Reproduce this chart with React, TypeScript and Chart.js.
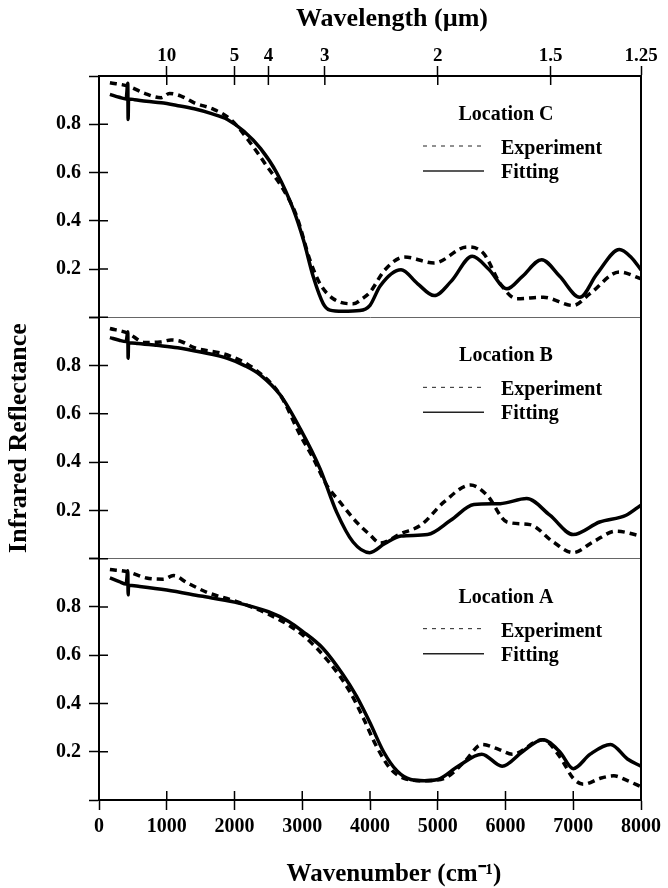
import React, { useEffect, useRef } from 'react';
import { Chart, registerables } from 'chart.js';

Chart.register(...registerables);

// ---------- axis / tick data ----------
const wavelengthValues = [10, 5, 4, 3, 2, 1.5, 1.25]; // µm
const wavelengthLabels = ['10', '5', '4', '3', '2', '1.5', '1.25'];
const panelLabels = ['Location C', 'Location B', 'Location A'];
const panelAxes = ['yC', 'yB', 'yA'];
const legendLabels = ['Experiment', 'Fitting'];
const topTitle = 'Wavelength (\u00B5m)';
const bottomTitle = 'Wavenumber (cm\u207B\u00B9)';
const leftTitle = 'Infrared Reflectance';

// ---------- Location C ----------
const cFitWn = [161, 300, 400, 425, 430, 436, 527, 700, 918, 1150, 1406, 1650, 1895, 2139, 2383, 2627, 2871, 3018, 3164, 3311, 3408, 3600, 3850, 4000, 4150, 4458, 4700, 4947, 5200, 5508, 5750, 6021, 6250, 6534, 6800, 7096, 7350, 7682, 7850, 8000];
const cFitR = [0.924, 0.912, 0.905, 0.97, 0.82, 0.905, 0.902, 0.895, 0.889, 0.878, 0.864, 0.845, 0.82, 0.771, 0.70, 0.597, 0.445, 0.32, 0.167, 0.056, 0.03, 0.025, 0.028, 0.05, 0.13, 0.197, 0.14, 0.09, 0.15, 0.253, 0.2, 0.118, 0.17, 0.239, 0.17, 0.083, 0.18, 0.281, 0.25, 0.197];
const cExpWn = [161, 430, 674, 918, 1040, 1211, 1406, 1700, 1944, 2237, 2481, 2725, 2920, 3115, 3262, 3457, 3750, 3900, 4000, 4215, 4508, 4947, 5435, 5679, 5923, 6167, 6559, 6998, 7242, 7682, 8000];
const cExpR = [0.972, 0.958, 0.928, 0.91, 0.928, 0.917, 0.889, 0.861, 0.82, 0.722, 0.625, 0.528, 0.417, 0.236, 0.139, 0.077, 0.056, 0.08, 0.104, 0.195, 0.25, 0.225, 0.292, 0.264, 0.139, 0.077, 0.083, 0.049, 0.097, 0.188, 0.16];

// ---------- Location B ----------
const bFitWn = [161, 300, 400, 425, 430, 436, 576, 850, 1162, 1500, 1895, 2150, 2383, 2676, 2969, 3262, 3506, 3750, 3995, 4215, 4458, 4850, 5191, 5533, 5923, 6313, 6655, 6998, 7389, 7780, 8000];
const bFitR = [0.916, 0.905, 0.90, 0.94, 0.83, 0.895, 0.892, 0.884, 0.874, 0.856, 0.83, 0.80, 0.761, 0.678, 0.539, 0.373, 0.194, 0.069, 0.025, 0.062, 0.094, 0.10, 0.159, 0.224, 0.228, 0.249, 0.18, 0.10, 0.152, 0.18, 0.222];
const bExpWn = [161, 430, 674, 900, 1064, 1211, 1406, 1895, 2285, 2676, 2969, 3164, 3360, 3555, 3799, 3995, 4150, 4458, 4751, 5093, 5484, 5728, 6021, 6362, 6705, 6998, 7291, 7633, 8000];
const bExpR = [0.954, 0.934, 0.896, 0.898, 0.906, 0.9, 0.874, 0.844, 0.788, 0.678, 0.512, 0.415, 0.305, 0.235, 0.152, 0.10, 0.065, 0.104, 0.139, 0.235, 0.305, 0.263, 0.152, 0.141, 0.069, 0.025, 0.069, 0.114, 0.094];

// ---------- Location A ----------
const aFitWn = [161, 300, 400, 425, 430, 436, 600, 1000, 1500, 2000, 2500, 2800, 3000, 3300, 3600, 3800, 4000, 4200, 4400, 4600, 4800, 5000, 5300, 5650, 5950, 6250, 6550, 6800, 7000, 7250, 7550, 7800, 8000];
const aFitR = [0.92, 0.905, 0.895, 0.95, 0.85, 0.89, 0.885, 0.87, 0.845, 0.82, 0.78, 0.74, 0.70, 0.63, 0.52, 0.43, 0.32, 0.20, 0.12, 0.085, 0.08, 0.085, 0.14, 0.19, 0.14, 0.2, 0.25, 0.2, 0.13, 0.19, 0.23, 0.17, 0.14];
const aExpWn = [161, 430, 700, 950, 1100, 1300, 1600, 2000, 2500, 3000, 3400, 3700, 3900, 4100, 4300, 4500, 4800, 5100, 5400, 5650, 5900, 6100, 6550, 6800, 7000, 7150, 7400, 7600, 7800, 8000];
const aExpR = [0.955, 0.945, 0.92, 0.915, 0.93, 0.9, 0.86, 0.825, 0.77, 0.685, 0.57, 0.45, 0.34, 0.22, 0.13, 0.09, 0.08, 0.09, 0.16, 0.23, 0.21, 0.19, 0.25, 0.18, 0.09, 0.065, 0.09, 0.10, 0.08, 0.055];

const FAMILY = '"Liberation Serif", "Times New Roman", serif';

const pts = (xs: number[], ys: number[]) => xs.map((x, i) => ({ x, y: ys[i] }));

const expStyle = {
  borderColor: '#000',
  borderWidth: 3.5,
  borderDash: [7, 5],
  pointRadius: 0,
  fill: false,
  cubicInterpolationMode: 'monotone' as const,
};
const fitStyle = {
  borderColor: '#000',
  borderWidth: 3.5,
  pointRadius: 0,
  fill: false,
  cubicInterpolationMode: 'monotone' as const,
};

const decorPlugin = {
  id: 'decor',
  afterDraw(chart: any) {
    const ctx = chart.ctx as CanvasRenderingContext2D;
    const a = chart.chartArea;
    ctx.save();
    ctx.strokeStyle = '#000';
    // right border
    ctx.lineWidth = 2;
    ctx.beginPath();
    ctx.moveTo(a.right, a.top - 1);
    ctx.lineTo(a.right, a.bottom + 1);
    ctx.stroke();
    // inward tick marks
    ctx.lineWidth = 1.5;
    ctx.beginPath();
    panelAxes.forEach((id) => {
      const s = chart.scales[id];
      s.ticks.forEach((t: any) => {
        const y = s.getPixelForValue(t.value);
        ctx.moveTo(a.left, y);
        ctx.lineTo(a.left + 9, y);
      });
    });
    const xb = chart.scales.x;
    xb.ticks.forEach((t: any) => {
      const x = xb.getPixelForValue(t.value);
      ctx.moveTo(x, a.bottom);
      ctx.lineTo(x, a.bottom - 9);
    });
    const xt = chart.scales.xTop;
    xt.ticks.forEach((t: any) => {
      const x = xt.getPixelForValue(t.value);
      ctx.moveTo(x, a.top);
      ctx.lineTo(x, a.top + 9);
    });
    ctx.stroke();

    ctx.fillStyle = '#000';
    // axis titles (x titles sit slightly right of plot centre, as in the original)
    ctx.font = `bold 26px ${FAMILY}`;
    ctx.textAlign = 'center';
    ctx.textBaseline = 'middle';
    ctx.fillText(topTitle, 392, 19);
    ctx.font = `bold 25px ${FAMILY}`;
    ctx.fillText(bottomTitle, 394, 875);

    // panel labels and legends
    ctx.font = `bold 20px ${FAMILY}`;
    ctx.textBaseline = 'alphabetic';
    panelAxes.forEach((id, i) => {
      const top = chart.scales[id].top;
      ctx.textAlign = 'center';
      ctx.fillText(panelLabels[i], a.right - 135, top + 44);
      ctx.textAlign = 'left';
      ctx.fillText(legendLabels[0], a.right - 140, top + 78);
      ctx.fillText(legendLabels[1], a.right - 140, top + 102);
      ctx.save();
      ctx.lineWidth = 1;
      ctx.strokeStyle = '#222';
      ctx.setLineDash([4, 5]);
      ctx.beginPath();
      ctx.moveTo(a.right - 218, top + 70);
      ctx.lineTo(a.right - 157, top + 70);
      ctx.stroke();
      ctx.setLineDash([]);
      ctx.lineWidth = 1.5;
      ctx.beginPath();
      ctx.moveTo(a.right - 218, top + 95);
      ctx.lineTo(a.right - 157, top + 95);
      ctx.stroke();
      ctx.restore();
    });
    ctx.restore();
  },
};

const yScale = (weight: number, withTitle: boolean) => ({
  type: 'linear' as const,
  position: 'left' as const,
  stack: 'panels',
  stackWeight: 1,
  weight,
  min: 0,
  max: 1,
  afterFit(s: any) {
    s.width = 99;
  },
  ticks: {
    stepSize: 0.2,
    autoSkip: false,
    padding: 8,
    color: '#000',
    font: { family: FAMILY, size: 20, weight: 'bold' as const },
    callback: (v: any) => (v > 0.05 && v < 0.95 ? Number(v).toFixed(1) : ''),
  },
  grid: {
    drawOnChartArea: true,
    tickLength: 10,
    tickColor: '#000',
    tickWidth: 1.5,
    lineWidth: 1,
    color: (c: any) => (weight < 3 && c.tick && Math.abs(c.tick.value - 1) < 1e-6 ? '#666' : 'rgba(0,0,0,0)'),
  },
  border: { display: true, color: '#000', width: 2 },
  title: {
    display: withTitle,
    text: leftTitle,
    color: '#000',
    font: { family: FAMILY, size: 26, weight: 'bold' as const, lineHeight: 1.2 },
    padding: { top: 4, bottom: 0 },
  },
});

export default function App() {
  const ref = useRef<HTMLCanvasElement>(null);
  useEffect(() => {
    if (!ref.current) return;
    const chart = new Chart(ref.current, {
      type: 'line',
      data: {
        datasets: [
          { label: 'C Experiment', data: pts(cExpWn, cExpR), yAxisID: 'yC', xAxisID: 'x', ...expStyle },
          { label: 'C Fitting', data: pts(cFitWn, cFitR), yAxisID: 'yC', xAxisID: 'x', ...fitStyle },
          { label: 'B Experiment', data: pts(bExpWn, bExpR), yAxisID: 'yB', xAxisID: 'x', ...expStyle },
          { label: 'B Fitting', data: pts(bFitWn, bFitR), yAxisID: 'yB', xAxisID: 'x', ...fitStyle },
          { label: 'A Experiment', data: pts(aExpWn, aExpR), yAxisID: 'yA', xAxisID: 'x', ...expStyle },
          { label: 'A Fitting', data: pts(aFitWn, aFitR), yAxisID: 'yA', xAxisID: 'x', ...fitStyle },
        ],
      },
      options: {
        responsive: false,
        animation: false,
        devicePixelRatio: 1,
        layout: { autoPadding: false, padding: { left: 0, right: 23, top: 0, bottom: 0 } },
        plugins: { legend: { display: false }, tooltip: { enabled: false } },
        scales: {
          x: {
            type: 'linear',
            position: 'bottom',
            min: 0,
            max: 8000,
            afterFit(s: any) {
              s.height = 88;
            },
            ticks: {
              stepSize: 1000,
              autoSkip: false,
              maxRotation: 0,
              padding: 7,
              color: '#000',
              font: { family: FAMILY, size: 20, weight: 'bold', lineHeight: 1 },
              callback: (v: any) => String(v),
            },
            grid: { drawOnChartArea: false, tickLength: 10, color: '#000', tickWidth: 1.5 },
            border: { display: true, color: '#000', width: 2 },
            title: { display: false, text: bottomTitle },
          },
          xTop: {
            type: 'linear',
            position: 'top',
            min: 0,
            max: 8000,
            afterFit(s: any) {
              s.height = 76;
            },
            afterBuildTicks(s: any) {
              s.ticks = wavelengthValues.map((l) => ({ value: 10000 / l }));
            },
            ticks: {
              autoSkip: false,
              maxRotation: 0,
              padding: 0,
              color: '#000',
              font: { family: FAMILY, size: 19, weight: 'bold', lineHeight: 1 },
              callback: (_v: any, i: number) => wavelengthLabels[i],
            },
            grid: { drawOnChartArea: false, tickLength: 10, color: '#000', tickWidth: 1.5 },
            border: { display: true, color: '#000', width: 2 },
            title: { display: false, text: topTitle },
          },
          yA: yScale(1, false),
          yB: yScale(2, true),
          yC: yScale(3, false),
        } as any,
      },
      plugins: [decorPlugin],
    });
    return () => chart.destroy();
  }, []);
  return (
    <div style={{ position: 'absolute', left: 0, top: 0, width: 668, height: 888, background: '#fff' }}>
      <canvas ref={ref} width={668} height={888} />
    </div>
  );
}
